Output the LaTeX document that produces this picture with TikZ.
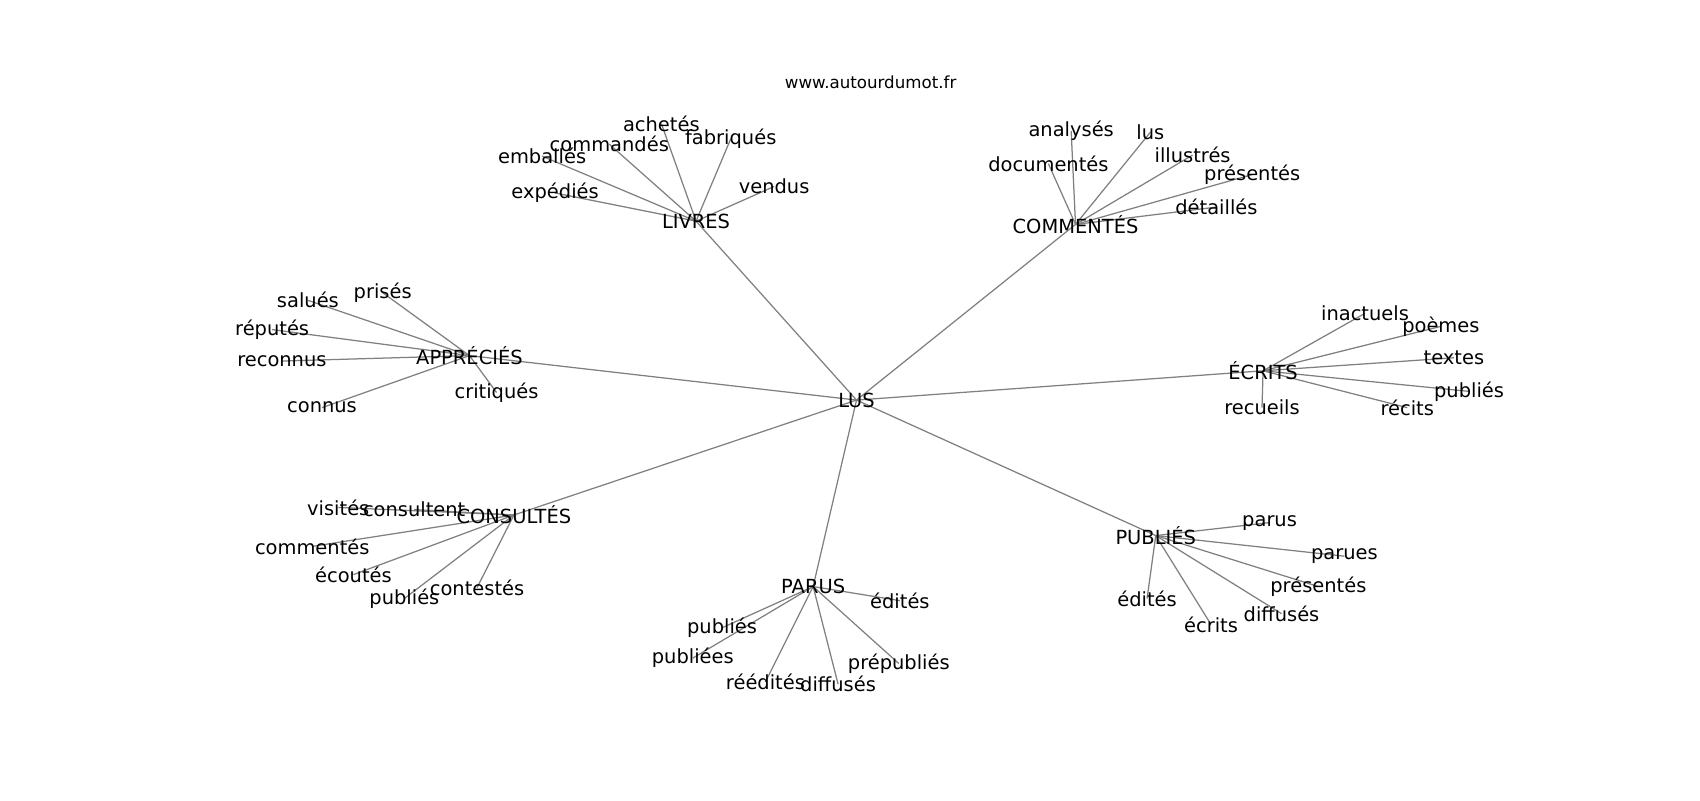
\documentclass[tikz,border=0pt]{standalone}
\usepackage{fontspec}
\setmainfont{DejaVu Sans}
\usetikzlibrary{backgrounds}
\definecolor{edgegray}{RGB}{128,128,128}

\begin{document}
\begin{tikzpicture}[x=0.7806pt,y=0.7806pt]
\tikzstyle{every node}+=[inner sep=0pt,font=\fontsize{14}{16}\selectfont]
\tikzstyle{edge}=[edgegray,line width=0.9pt]
\useasboundingbox (0,0) rectangle (1568,-738);
\node (titre) at (803,-76) {\fontsize{12}{14}\selectfont www.autourdumot.fr};
% centre et branches
\node (lus) at (790,-369) {LUS};
\node (livres) at (642,-204) {LIVRES};
\node (commentes) at (992,-207) {COMMENTÉS};
\node (apprecies) at (433,-328) {APPRÉCIÉS};
\node (ecrits) at (1165,-342) {ÉCRITS};
\node (consultes) at (474,-475) {CONSULTÉS};
\node (parus) at (750,-541) {PARUS};
\node (publies) at (1066,-494) {PUBLIÉS};
% LIVRES
\node (achetes) at (610,-114) {achetés};
\node (commandes) at (562,-133) {commandés};
\node (fabriques) at (674,-128) {fabriqués};
\node (emballes) at (500,-144) {emballés};
\node (expedies) at (512,-178) {expédiés};
\node (vendus) at (714,-172) {vendus};
% COMMENTES
\node (analyses) at (988,-121) {analysés};
\node (c-lus) at (1061,-122) {lus};
\node (documentes) at (967,-151) {documentés};
\node (illustres) at (1100,-143) {illustrés};
\node (c-presentes) at (1155,-161) {présentés};
\node (detailles) at (1122,-191) {détaillés};
% APPRECIES
\node (prises) at (353,-270) {prisés};
\node (salues) at (284,-277) {salués};
\node (reputes) at (251,-304) {réputés};
\node (reconnus) at (260,-333) {reconnus};
\node (connus) at (297,-376) {connus};
\node (critiques) at (458,-362) {critiqués};
% ECRITS
\node (inactuels) at (1259,-289) {inactuels};
\node (poemes) at (1329,-301) {poèmes};
\node (textes) at (1341,-330) {textes};
\node (e-publies) at (1355,-361) {publiés};
\node (recits) at (1298,-376) {récits};
\node (recueils) at (1164,-376) {recueils};
% CONSULTES
\node (visites) at (312,-468) {visités};
\node (consultent) at (382,-470) {consultent};
\node (k-commentes) at (288,-504) {commentés};
\node (ecoutes) at (326,-530) {écoutés};
\node (k-publies) at (373,-552) {publiés};
\node (contestes) at (440,-542) {contestés};
% PARUS
\node (p-edites) at (830,-554) {édités};
\node (p-publies) at (666,-579) {publiés};
\node (publiees) at (639,-607) {publiées};
\node (reedites) at (706,-629) {réédités};
\node (p-diffuses) at (773,-631) {diffusés};
\node (prepublies) at (829,-612) {prépubliés};
% PUBLIES
\node (u-parus) at (1171,-482) {parus};
\node (parues) at (1240,-513) {parues};
\node (u-presentes) at (1216,-541) {présentés};
\node (u-diffuses) at (1182,-566) {diffusés};
\node (u-ecrits) at (1117,-576) {écrits};
\node (u-edites) at (1058,-552) {édités};
\begin{pgfonlayer}{background}
\draw [edge] (lus.center) -- (livres.center);
\draw [edge] (lus.center) -- (commentes.center);
\draw [edge] (lus.center) -- (apprecies.center);
\draw [edge] (lus.center) -- (ecrits.center);
\draw [edge] (lus.center) -- (consultes.center);
\draw [edge] (lus.center) -- (parus.center);
\draw [edge] (lus.center) -- (publies.center);
\draw [edge] (livres.center) -- (achetes.center);
\draw [edge] (livres.center) -- (commandes.center);
\draw [edge] (livres.center) -- (fabriques.center);
\draw [edge] (livres.center) -- (emballes.center);
\draw [edge] (livres.center) -- (expedies.center);
\draw [edge] (livres.center) -- (vendus.center);
\draw [edge] (commentes.center) -- (analyses.center);
\draw [edge] (commentes.center) -- (c-lus.center);
\draw [edge] (commentes.center) -- (documentes.center);
\draw [edge] (commentes.center) -- (illustres.center);
\draw [edge] (commentes.center) -- (c-presentes.center);
\draw [edge] (commentes.center) -- (detailles.center);
\draw [edge] (apprecies.center) -- (prises.center);
\draw [edge] (apprecies.center) -- (salues.center);
\draw [edge] (apprecies.center) -- (reputes.center);
\draw [edge] (apprecies.center) -- (reconnus.center);
\draw [edge] (apprecies.center) -- (connus.center);
\draw [edge] (apprecies.center) -- (critiques.center);
\draw [edge] (ecrits.center) -- (inactuels.center);
\draw [edge] (ecrits.center) -- (poemes.center);
\draw [edge] (ecrits.center) -- (textes.center);
\draw [edge] (ecrits.center) -- (e-publies.center);
\draw [edge] (ecrits.center) -- (recits.center);
\draw [edge] (ecrits.center) -- (recueils.center);
\draw [edge] (consultes.center) -- (visites.center);
\draw [edge] (consultes.center) -- (consultent.center);
\draw [edge] (consultes.center) -- (k-commentes.center);
\draw [edge] (consultes.center) -- (ecoutes.center);
\draw [edge] (consultes.center) -- (k-publies.center);
\draw [edge] (consultes.center) -- (contestes.center);
\draw [edge] (parus.center) -- (p-edites.center);
\draw [edge] (parus.center) -- (p-publies.center);
\draw [edge] (parus.center) -- (publiees.center);
\draw [edge] (parus.center) -- (reedites.center);
\draw [edge] (parus.center) -- (p-diffuses.center);
\draw [edge] (parus.center) -- (prepublies.center);
\draw [edge] (publies.center) -- (u-parus.center);
\draw [edge] (publies.center) -- (parues.center);
\draw [edge] (publies.center) -- (u-presentes.center);
\draw [edge] (publies.center) -- (u-diffuses.center);
\draw [edge] (publies.center) -- (u-ecrits.center);
\draw [edge] (publies.center) -- (u-edites.center);
\end{pgfonlayer}
\end{tikzpicture}
\end{document}
